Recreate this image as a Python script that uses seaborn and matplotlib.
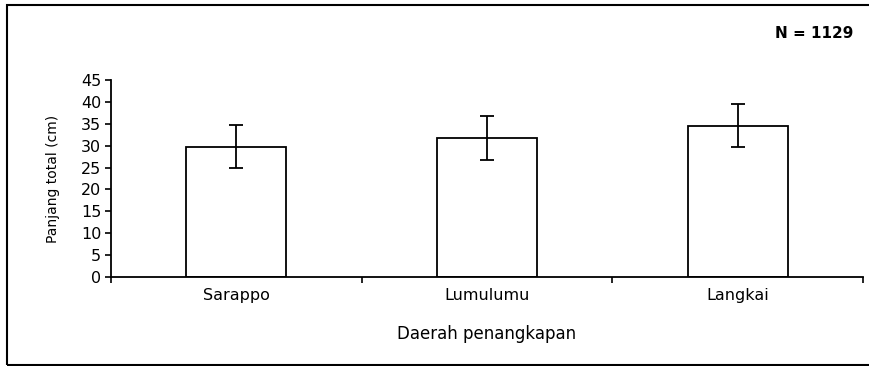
import matplotlib
matplotlib.use("Agg")
import matplotlib.pyplot as plt
import seaborn as sns
import pandas as pd
from matplotlib.patches import Rectangle

# Data
daerah = ["Sarappo", "Lumulumu", "Langkai"]
panjang_rata = [29.8, 31.8, 34.6]
panjang_sd = [5.0, 5.0, 5.0]
n_total = 1129

df = pd.DataFrame({"Daerah": daerah, "Panjang": panjang_rata, "SD": panjang_sd})

sns.set_style("ticks", {"text.color": "black", "axes.labelcolor": "black",
                        "xtick.color": "black", "ytick.color": "black",
                        "axes.edgecolor": "black"})
plt.rcParams["font.family"] = ["DejaVu Sans"]

fig = plt.figure(figsize=(8.69, 3.66), dpi=100)
ax = fig.add_axes([111 / 869, 89 / 366, 752 / 869, 197 / 366])

sns.barplot(data=df, x="Daerah", y="Panjang", color="white", edgecolor="black",
            linewidth=1.3, width=0.4, errorbar=None, ax=ax)
ax.errorbar(range(len(daerah)), df["Panjang"], yerr=df["SD"], fmt="none",
            ecolor="black", elinewidth=1.3, capsize=5, capthick=1.3)

ax.set_xlim(-0.5, 2.5)
ax.set_ylim(0, 45)
ax.set_yticks(range(0, 46, 5))
ax.tick_params(axis="y", labelsize=11.5, length=4, width=1.2, direction="out", pad=3)
ax.tick_params(axis="x", which="major", length=0, labelsize=11.5, pad=8)
ax.set_xticks([-0.5, 0.5, 1.5, 2.5], minor=True)
ax.tick_params(axis="x", which="minor", length=4, width=1.2, direction="out")

for s in ["top", "right"]:
    ax.spines[s].set_visible(False)
for s in ["left", "bottom"]:
    ax.spines[s].set_linewidth(1.3)
    ax.spines[s].set_color("black")

ax.set_xlabel("Daerah penangkapan", fontsize=12, labelpad=16)
ax.set_ylabel("Panjang total (cm)", fontsize=10, labelpad=15)

fig.text(853 / 869, 1 - 33 / 366, f"N = {n_total}", ha="right", va="center",
         fontsize=11, fontweight="bold", color="black")

# outer frame around the figure
fig.patches.append(Rectangle((7 / 869, 1 / 366), 1.0, 1 - 6 / 366,
                             transform=fig.transFigure, fill=False,
                             edgecolor="black", linewidth=1.5))

fig.savefig("out.png", dpi=100)
